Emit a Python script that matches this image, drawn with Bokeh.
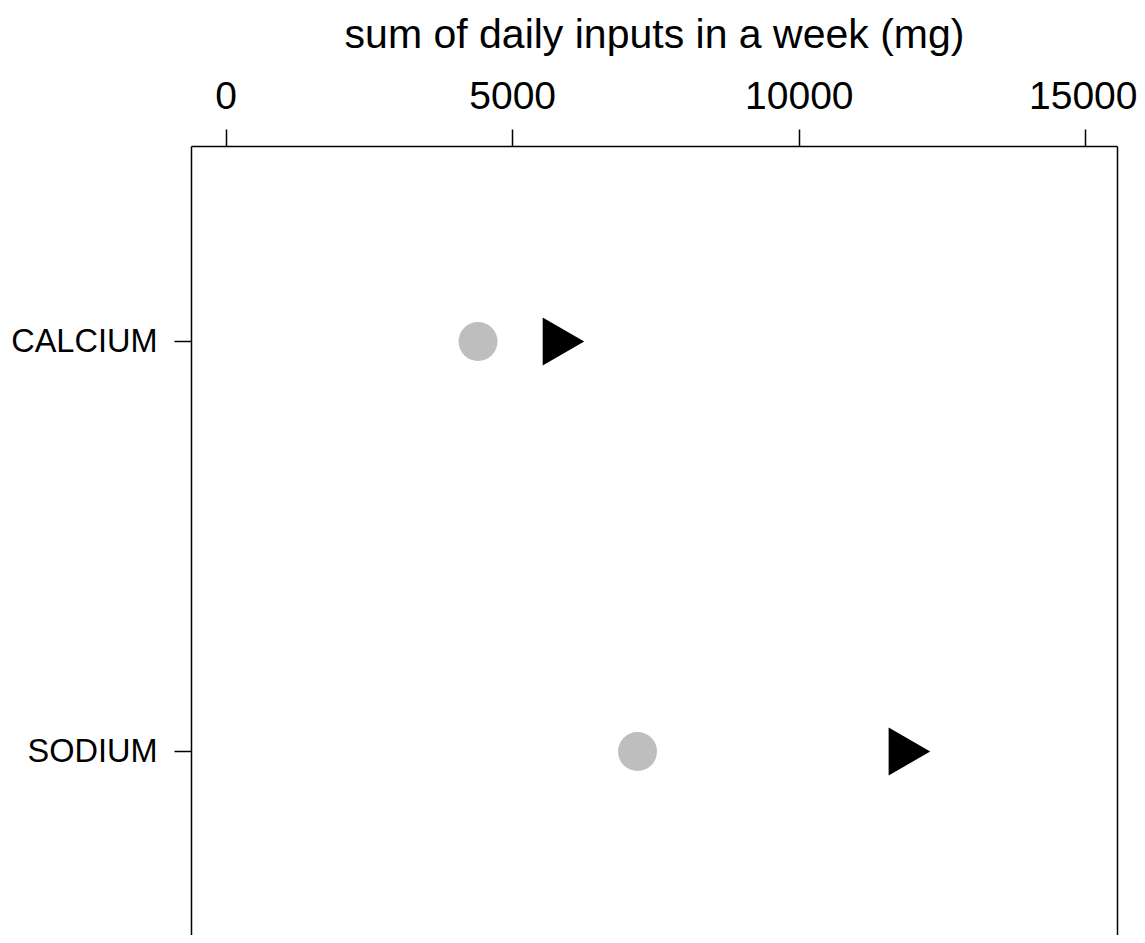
import math
from bokeh.plotting import figure
from bokeh.models import LinearAxis, FixedTicker, Range1d, ColumnDataSource
from bokeh.embed import file_html
from bokeh.resources import INLINE

categories = ["CALCIUM", "SODIUM"]
series_a = [4396, 7178]     # grey circles
series_b = [5765, 11800]    # black triangles
x_ticks = [0, 5000, 10000, 15000]
title = "sum of daily inputs in a week (mg)"

ypos = {"SODIUM": 1, "CALCIUM": 2}
ys = [ypos[c] for c in categories]

FONT = "Liberation Sans"

p = figure(width=1137, height=935, output_backend="svg", toolbar_location=None,
           x_range=Range1d(-602, 15550), y_range=Range1d(0.5512, 2.4756),
           x_axis_location="above", y_axis_location="left",
           min_border_left=191, min_border_top=146, min_border_right=20, min_border_bottom=0)
p.outline_line_color = None
p.xgrid.visible = False
p.ygrid.visible = False
p.background_fill_color = "white"
p.border_fill_color = "white"

xa = p.xaxis[0]
xa.ticker = FixedTicker(ticks=x_ticks)
xa.axis_label = title
xa.axis_label_text_font = FONT
xa.axis_label_text_font_size = "41px"
xa.axis_label_text_font_style = "normal"
xa.axis_label_text_color = "black"
xa.axis_label_standoff = 22
xa.major_label_text_font = FONT
xa.major_label_text_font_size = "39px"
xa.major_label_text_color = "black"
xa.major_label_standoff = 21
xa.major_tick_in = 0
xa.major_tick_out = 17
xa.minor_tick_line_color = None
xa.axis_line_color = "black"
xa.major_tick_line_color = "black"
xa.axis_line_width = 1.5
xa.major_tick_line_width = 1.5

ya = p.yaxis[0]
ya.ticker = FixedTicker(ticks=[1, 2])
ya.major_label_overrides = {ypos[c]: c for c in categories}
ya.major_label_text_font = FONT
ya.major_label_text_font_size = "32.5px"
ya.major_label_text_color = "black"
ya.major_label_standoff = 17
ya.major_tick_in = 0
ya.major_tick_out = 17
ya.minor_tick_line_color = None
ya.axis_line_color = "black"
ya.major_tick_line_color = "black"
ya.axis_line_width = 1.5
ya.major_tick_line_width = 1.5

ra = LinearAxis(ticker=FixedTicker(ticks=[]), axis_line_color="black", axis_line_width=1.5,
                major_tick_line_color=None, minor_tick_line_color=None)
p.add_layout(ra, "right")

src = ColumnDataSource(dict(cat=categories, y=ys, a=series_a, b=series_b))
p.scatter("a", "y", source=src, marker="circle", size=39, fill_color="#BEBEBE", line_color=None)
p.scatter("b", "y", source=src, marker="triangle", size=48, angle=-math.pi / 2,
          fill_color="black", line_color=None)

open("out.html", "w").write(file_html(p, INLINE))
